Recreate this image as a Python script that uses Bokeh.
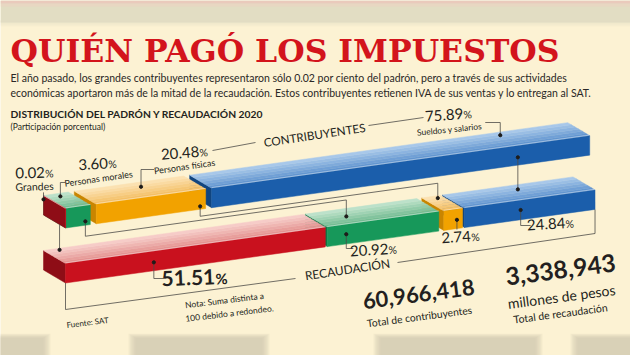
import math
from bokeh.plotting import figure
from bokeh.models import Range1d
from bokeh.core.properties import value
from bokeh.embed import file_html
from bokeh.resources import INLINE

# ---------------- data ----------------
categories = ["Grandes", "Personas morales", "Personas físicas", "Sueldos y salarios"]
padron_pct = [0.02, 3.60, 20.48, 75.89]          # participación en el padrón (%)
recaudacion_pct = [51.51, 20.92, 2.74, 24.84]    # participación en la recaudación (%)
total_contribuyentes = 60966418
total_recaudacion = 3338943                       # millones de pesos

title = "QUIÉN PAGÓ LOS IMPUESTOS"
intro = [
    "El año pasado, los grandes contribuyentes representaron sólo 0.02 por ciento del padrón, pero a través de sus actividades",
    "económicas aportaron más de la mitad de la recaudación. Estos contribuyentes retienen IVA de sus ventas y lo entregan al SAT.",
]
chart_title = "DISTRIBUCIÓN DEL PADRÓN Y RECAUDACIÓN 2020"
chart_sub = "(Participación porcentual)"
row_names = ["CONTRIBUYENTES", "RECAUDACIÓN"]
source = "Fuente: SAT"
note = ["Nota: Suma distinta a", "100 debido a redondeo."]

# ---------------- style ----------------
BG = "#FCF2D3"
DARK = "#231F20"
TITLE_RED = "#D3141C"
F = "Lato"
front_col = ["#C9111E", "#17985A", "#F2A200", "#1B5EAB"]
end_col = ["#8E0D16", "#0E7444", "#C98500", "#11457F"]
top_back = ["#F8D2CE", "#C3E5CF", "#FCE4B8", "#AFCDEC"]
top_front = ["#E28E8C", "#6DB88D", "#F3BC5F", "#5C91CE"]

# perspective layout parameters (screen px)
X0 = 65.0
SLOPE = -0.139
DX, DY = -22.0, -13.0
H = 19.5
K = 4.85
C = 10.0
ROW_Y = [208.0, 263.0]
GAPS = [[0, 6, 6], [2, 5, 2]]


def hex2rgb(h):
    h = h.lstrip("#")
    return tuple(int(h[i:i + 2], 16) for i in (0, 2, 4))


def lerp(c1, c2, t):
    a, b = hex2rgb(c1), hex2rgb(c2)
    return "#%02x%02x%02x" % tuple(int(round(a[i] + (b[i] - a[i]) * t)) for i in range(3))


def yf(row, x):
    return ROW_Y[row] + SLOPE * (x - X0)


def widths(pcts):
    return [K * v + C * min(1.0, v / 5.0) for v in pcts]


def layout(pcts, gaps):
    segs, x = [], X0
    for i, w in enumerate(widths(pcts)):
        if i > 0:
            x += gaps[i - 1]
        segs.append((x, x + w))
        x += w
    return segs


def top_pt(row, seg, fx, fy):
    xl, xr = seg
    xf = xl + fx * (xr - xl)
    return (xf + DX * fy, yf(row, xf) + DY * fy)


def top_at_x(row, x, fy):
    xf = x - DX * fy
    return (x, yf(row, xf) + DY * fy)


def front_pt(row, seg, fx, fz):
    xl, xr = seg
    x = xl + fx * (xr - xl)
    return (x, yf(row, x) + H * fz)


def end_pt(row, seg, fy, fz):
    xl = seg[0]
    return (xl + DX * fy, yf(row, xl) + DY * fy + H * fz)


p = figure(width=630, height=355, x_range=Range1d(0, 630), y_range=Range1d(355, 0),
           toolbar_location=None, output_backend="svg", min_border=0,
           x_axis_location=None, y_axis_location=None)
p.grid.visible = False
p.outline_line_color = None
p.background_fill_color = BG
p.border_fill_color = BG

# ---- blurred top and bottom bands ----
p.quad(left=0, right=630, top=0, bottom=22, fill_color="#E2DDC3", line_color=None)
for k in range(6):
    p.quad(left=0, right=630, top=20 + k, bottom=21 + k, fill_color="#E2DDC3",
           fill_alpha=0.8 - k * 0.13, line_color=None)
p.quad(left=0, right=630, top=0, bottom=3, fill_color="#ECC6BA", fill_alpha=0.8, line_color=None)
p.quad(left=0, right=630, top=3, bottom=6, fill_color="#EDD3C2", fill_alpha=0.6, line_color=None)
for (a, b) in [(-10, 46), (132, 265), (377, 538), (574, 640)]:
    for k in range(6):
        e = 8 - k * 1.4
        p.quad(left=a - e + 4, right=b + e - 4, top=338 - e * 0.6, bottom=360,
               fill_color="#C9C3AD", fill_alpha=0.17, line_color=None)

# ---- bars ----
polys_x, polys_y, cols = [], [], []


def add(pts, col):
    polys_x.append([q[0] for q in pts])
    polys_y.append([q[1] for q in pts])
    cols.append(col)


rows = [padron_pct, recaudacion_pct]
segs_all = [layout(r, GAPS[i]) for i, r in enumerate(rows)]
for r in range(2):
    segs = segs_all[r]
    for i in reversed(range(len(segs))):
        xl, xr = segs[i]
        yl, yr = yf(r, xl), yf(r, xr)
        add([(xl + DX, yl + DY), (xl, yl), (xl, yl + H), (xl + DX, yl + DY + H)], end_col[i])
        n = 6
        for j in range(n):
            f0, f1 = j / n, (j + 1) / n
            add([(xl + DX * f0, yl + DY * f0), (xr + DX * f0, yr + DY * f0),
                 (xr + DX * f1, yr + DY * f1), (xl + DX * f1, yl + DY * f1)],
                lerp(top_front[i], top_back[i], (j + 0.5) / n))
        add([(xl, yl), (xr, yr), (xr, yr + H), (xl, yl + H)], front_col[i])

p.patches(xs=polys_x, ys=polys_y, fill_color=cols, line_color=cols, line_width=0.5)

hx, hy = [], []
for r in range(2):
    for (xl, xr) in segs_all[r]:
        hx.append([xl, xr]); hy.append([yf(r, xl) - 0.6, yf(r, xr) - 0.6])
p.multi_line(xs=hx, ys=hy, line_color="white", line_alpha=0.45, line_width=1)

# ---- dots and connectors ----
T, B = segs_all
LC = "#4D4B47"
lines = []

d_red_t = end_pt(0, T[0], 1.0, 0.2)
d_grn_t = top_pt(0, T[1], 0.5, 0.8)
d_grn_tf = front_pt(0, T[1], 0.8, 0.8)
d_org_t = top_pt(0, T[2], 0.55, 0.7)
d_org_tf = front_pt(0, T[2], 0.95, 0.85)
d_blu_t = top_pt(0, T[3], 0.81, 0.8)
d_blu_tf = front_pt(0, T[3], 0.81, 0.6)

d_red_bf = front_pt(1, B[0], 0.34, 0.57)
d_grn_bf = front_pt(1, B[1], 0.17, 0.5)
d_org_bf = front_pt(1, B[2], 0.7, 0.55)
d_blu_bf = front_pt(1, B[3], 0.43, 0.5)

xr_link = T[0][0] + DX * 0.27
y_start = yf(0, T[0][0]) + DY * 0.27 + H
d_red_b = top_at_x(1, xr_link, 0.9)
lines.append(([xr_link, xr_link], [y_start, d_red_b[1]]))
xg = d_grn_tf[0]
yg0 = yf(0, xg) + H + 11
d_grn_b = top_at_x(1, B[1][0] + 19, 0.5)
lines.append(([xg, xg, d_grn_b[0], d_grn_b[0]],
              [d_grn_tf[1], yg0, yg0 + SLOPE * (d_grn_b[0] - xg), d_grn_b[1]]))
xo = d_org_tf[0]
yo0 = yf(0, xo) + H + 7
d_org_b = top_at_x(1, B[2][0] - 6, 0.85)
lines.append(([xo, xo, d_org_b[0], d_org_b[0]],
              [d_org_tf[1], yo0, yo0 + SLOPE * (d_org_b[0] - xo), d_org_b[1]]))
d_blu_b = top_at_x(1, d_blu_tf[0], 0.7)
lines.append(([d_blu_tf[0], d_blu_b[0]], [d_blu_tf[1], d_blu_b[1]]))

lines.append(([d_red_t[0], d_red_t[0]], [d_red_t[1], d_red_t[1] - 7]))
lines.append(([d_grn_t[0], d_grn_t[0], d_grn_t[0] + 5], [d_grn_t[1], 182, 182]))
lines.append(([d_org_t[0], d_org_t[0], d_org_t[0] + 13], [d_org_t[1], 169, 169]))
lines.append(([d_blu_t[0], d_blu_t[0], d_blu_t[0] - 15], [d_blu_t[1], 122, 122]))
lines.append(([d_red_bf[0], d_red_bf[0], d_red_bf[0] + 10], [d_red_bf[1], 278, 278]))
lines.append(([d_grn_bf[0], d_grn_bf[0], d_grn_bf[0] + 7], [d_grn_bf[1], 248, 248]))
lines.append(([d_org_bf[0], d_org_bf[0]], [d_org_bf[1], 229]))
lines.append(([d_blu_bf[0], d_blu_bf[0], d_blu_bf[0] + 10], [d_blu_bf[1], 225, 225]))
lines.append(([212, 255], [150, 142]))
lines.append(([368, 423], [125, 117]))
bx0 = B[0][0]
lines.append(([bx0, bx0, 295], [yf(1, bx0) + H, 309, 278]))
bxr = B[3][1]
lines.append(([397, bxr, bxr], [262, 233, yf(1, bxr) + H]))

p.multi_line(xs=[l[0] for l in lines], ys=[l[1] for l in lines], line_color=LC, line_width=0.8)

dots = [d_red_t, d_grn_t, d_grn_tf, d_org_t, d_org_tf, d_blu_t, d_blu_tf,
        d_red_b, d_grn_b, d_org_b, d_blu_b, d_red_bf, d_grn_bf, d_org_bf, d_blu_bf]
p.scatter(x=[d[0] for d in dots], y=[d[1] for d in dots], size=3.2, color="#1E1C1A")


# ---- texts ----
def txt(x, y, s, size, angle=0.0, font=F, style="normal", color=DARK, align="center",
        baseline="middle"):
    p.text(x=[x], y=[y], text=[s], angle=angle, text_font=value(font),
           text_font_size=value(f"{size}px"), text_font_style=style, text_color=color,
           text_align=align, text_baseline=baseline)


def pct(cx, cy, v, size, angle=0.0, style="normal"):
    num = f"{v:.2f}"
    ps = size * 0.7
    wn = size * (0.58 * sum(ch.isdigit() for ch in num) + 0.25 * sum(not ch.isdigit() for ch in num))
    wp = ps * 0.82
    tot = wn + wp
    ca, sa = math.cos(angle), math.sin(angle)
    sx, sy = cx - tot / 2 * ca, cy + tot / 2 * sa
    txt(sx, sy, num, size, angle, style=style, align="left")
    off = (size - ps) * 0.3
    txt(sx + wn * ca + off * sa, sy - wn * sa + off * ca, "%", ps, angle, style=style, align="left")


txt(10, 50, title, 31.5, font="DejaVu Serif", style="bold", color=TITLE_RED, align="left")
txt(10, 77, intro[0], 10.5, color="#2A2826", align="left")
txt(10, 92, intro[1], 10.5, color="#2A2826", align="left")
txt(10, 113, chart_title, 10.3, style="bold", align="left")
txt(10, 126, chart_sub, 8.5, align="left")

txt(34, 186, categories[0], 10.5, 0.03)
pct(34, 172, padron_pct[0], 15, 0.03)
pct(97, 163, padron_pct[1], 15, 0.06)
txt(98, 178, categories[1], 9, 0.14)
pct(184, 152, padron_pct[2], 15, 0.08)
txt(184, 166, categories[2], 9, 0.14)
txt(314, 134, row_names[0], 11.7, 0.15)
pct(448, 114, padron_pct[3], 15, 0.08)
txt(449, 129, categories[3], 8.5, 0.1)

pct(194, 277, recaudacion_pct[0], 21, 0.04, style="bold")
pct(373, 249, recaudacion_pct[1], 15, 0.06)
pct(460, 236, recaudacion_pct[2], 15, 0.06)
pct(550, 223, recaudacion_pct[3], 15, 0.06)
txt(347, 269, row_names[1], 12, 0.15)

txt(87, 322, source, 8, 0.12)
txt(224, 300, note[0], 8.5, 0.12)
txt(229, 313, note[1], 8.5, 0.12)

txt(418, 293, f"{total_contribuyentes:,}", 22, 0.13, style="bold")
txt(419, 316, "Total de contribuyentes", 10.3, 0.13)
txt(560, 269, f"{total_recaudacion:,}", 24.5, 0.13, style="bold")
txt(561, 296, "millones de pesos", 14, 0.13)
txt(560, 313, "Total de recaudación", 10.5, 0.13)

open("out.html", "w").write(file_html(p, INLINE))
